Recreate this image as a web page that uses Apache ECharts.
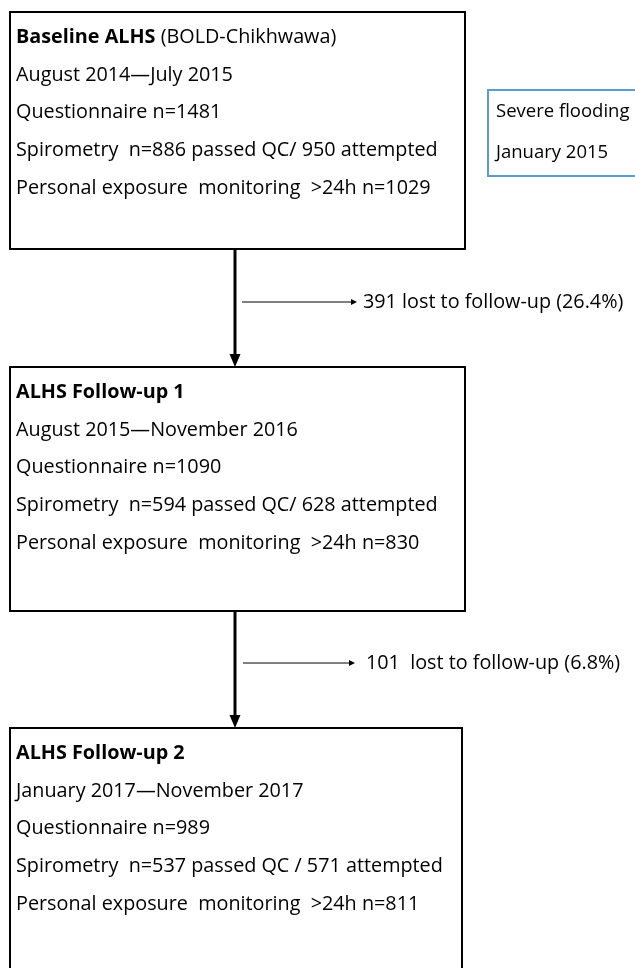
<!DOCTYPE html>
<html><head><meta charset="utf-8">
<script src="https://cdn.jsdelivr.net/npm/echarts@6/dist/echarts.min.js"></script>
<style>html,body{margin:0;padding:0;background:#fff}#c{width:635px;height:968px}</style>
</head><body><div id="c"></div>
<script>
// ---- data ----
const stageTitles = ['Baseline ALHS', 'ALHS Follow-up 1', 'ALHS Follow-up 2'];
const stageSubtitles = [' (BOLD-Chikhwawa)', '', ''];
const stagePeriods = ['August 2014\u2014July 2015', 'August 2015\u2014November 2016', 'January 2017\u2014November 2017'];
const questionnaireN = [1481, 1090, 989];
const spiroPassedN = [886, 594, 537];
const spiroAttemptedN = [950, 628, 571];
const spiroSep = ['/ ', '/ ', ' / '];
const exposureN = [1029, 830, 811];
const lostN = [391, 101];
const lostPct = ['26.4', '6.8'];
const lostSep = [' ', '  '];
const noteLines = ['Severe flooding', 'January 2015'];

// ---- layout (data coordinates = pixels on hidden axes) ----
const boxRects = [[10, 12, 465, 249], [10, 367, 465, 611], [10, 728, 462, 1010]];
const noteRect = [488, 90, 660, 176];
const downArrows = [[235, 249, 367], [235, 611, 728]];
const sideArrows = [[242, 357, 302], [243, 355, 663]];
const sideTextX = [363, 366];
const FONT = '"Open Sans", Lato, sans-serif';
const FS = 19.8;
const NOTE_FS = 18.5;

function stageLines(i) {
  return [
    null,
    stagePeriods[i],
    'Questionnaire n=' + questionnaireN[i],
    'Spirometry  n=' + spiroPassedN[i] + ' passed QC' + spiroSep[i] + spiroAttemptedN[i] + ' attempted',
    'Personal exposure  monitoring  >24h n=' + exposureN[i]
  ];
}

const chart = echarts.init(document.getElementById('c'), null, {renderer: 'canvas'});

const option = {
  animation: false,
  backgroundColor: '#fff',
  grid: {left: 0, right: 0, top: 0, bottom: 0},
  xAxis: {type: 'value', min: 0, max: 635, show: false},
  yAxis: {type: 'value', min: 0, max: 968, inverse: true, show: false},
  series: [
    {
      type: 'custom', coordinateSystem: 'cartesian2d', clip: false,
      data: stageTitles.map((t, i) => [i]),
      renderItem: function (params, api) {
        const i = api.value(0);
        const r = boxRects[i];
        const p0 = api.coord([r[0], r[1]]);
        const p1 = api.coord([r[2], r[3]]);
        const children = [{
          type: 'rect',
          shape: {x: p0[0], y: p0[1], width: p1[0] - p0[0], height: p1[1] - p0[1]},
          style: {fill: '#fff', stroke: '#000', lineWidth: 2}
        }];
        const lines = stageLines(i);
        for (let k = 0; k < lines.length; k++) {
          const pt = api.coord([r[0] + 6, r[1] + 25.5 + 37.6 * k]);
          if (k === 0) {
            children.push({
              type: 'text',
              style: {
                text: '{b|' + stageTitles[i] + '}' + (stageSubtitles[i] ? '{n|' + stageSubtitles[i] + '}' : ''),
                x: pt[0], y: pt[1], align: 'left', verticalAlign: 'middle',
                rich: {
                  b: {fontFamily: FONT, fontSize: FS, fontWeight: 'bold', fill: '#000'},
                  n: {fontFamily: FONT, fontSize: FS, fill: '#000'}
                }
              }
            });
          } else {
            children.push({
              type: 'text',
              style: {text: lines[k], x: pt[0], y: pt[1], align: 'left', verticalAlign: 'middle',
                fontFamily: FONT, fontSize: FS, fill: '#000'}
            });
          }
        }
        return {type: 'group', children: children};
      }
    },
    {
      type: 'custom', coordinateSystem: 'cartesian2d', clip: false,
      data: [[0]],
      renderItem: function (params, api) {
        const r = noteRect;
        const p0 = api.coord([r[0], r[1]]);
        const p1 = api.coord([r[2], r[3]]);
        const children = [{
          type: 'rect',
          shape: {x: p0[0], y: p0[1], width: p1[0] - p0[0], height: p1[1] - p0[1]},
          style: {fill: '#fff', stroke: '#5b9bd5', lineWidth: 2}
        }];
        noteLines.forEach((t, k) => {
          const pt = api.coord([r[0] + 8, r[1] + 22 + 41 * k]);
          children.push({type: 'text', style: {text: t, x: pt[0], y: pt[1], align: 'left', verticalAlign: 'middle',
            fontFamily: FONT, fontSize: NOTE_FS, fill: '#000'}});
        });
        return {type: 'group', children: children};
      }
    },
    {
      type: 'custom', coordinateSystem: 'cartesian2d', clip: false,
      data: downArrows.map((a, i) => [i]),
      renderItem: function (params, api) {
        const i = api.value(0);
        const a = downArrows[i];
        const top = api.coord([a[0], a[1]]);
        const bot = api.coord([a[0], a[2]]);
        const s = sideArrows[i];
        const l0 = api.coord([s[0], s[2]]);
        const l1 = api.coord([s[1], s[2]]);
        const tp = api.coord([sideTextX[i], s[2]]);
        return {type: 'group', children: [
          {type: 'line', shape: {x1: top[0], y1: top[1], x2: bot[0], y2: bot[1] - 10},
            style: {stroke: '#000', lineWidth: 3}},
          {type: 'polygon', shape: {points: [[bot[0] - 5.5, bot[1] - 13], [bot[0] + 5.5, bot[1] - 13], [bot[0], bot[1]]]},
            style: {fill: '#000'}},
          {type: 'line', shape: {x1: l0[0], y1: l0[1], x2: l1[0] - 4, y2: l1[1]},
            style: {stroke: '#000', lineWidth: 1}},
          {type: 'polygon', shape: {points: [[l1[0] - 6, l1[1] - 3], [l1[0] - 6, l1[1] + 3], [l1[0], l1[1]]]},
            style: {fill: '#000'}},
          {type: 'text', style: {text: lostN[i] + lostSep[i] + 'lost to follow-up (' + lostPct[i] + '%)',
            x: tp[0], y: tp[1], align: 'left', verticalAlign: 'middle', fontFamily: FONT, fontSize: FS, fill: '#000'}}
        ]};
      }
    }
  ]
};
chart.setOption(option);
</script>
</body></html>
